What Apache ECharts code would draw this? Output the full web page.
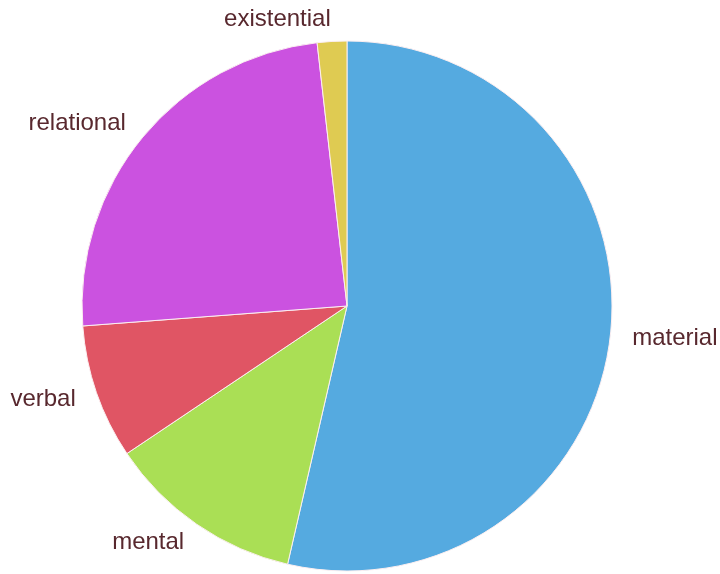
<!DOCTYPE html>
<html>
<head>
<meta charset="utf-8">
<script src="https://cdn.jsdelivr.net/npm/echarts@6/dist/echarts.min.js"></script>
<style>
  html, body { margin: 0; padding: 0; background: #fff; }
  #main { width: 720px; height: 574px; }
</style>
</head>
<body>
<div id="main"></div>
<script>
// process types and their shares (%)
const categories = ['material', 'mental', 'verbal', 'relational', 'existential'];
const values = [53.6, 12.0, 8.2, 24.4, 1.8];
const colors = ['#55aae0', '#aadf55', '#e05564', '#cb52e0', '#dfcb52'];

const chart = echarts.init(document.getElementById('main'));

const option = {
  animation: false,
  series: [
    {
      type: 'pie',
      center: [347, 306],
      radius: 265,
      startAngle: 90,
      clockwise: true,
      avoidLabelOverlap: false,
      data: categories.map((name, i) => ({
        name: name,
        value: values[i],
        itemStyle: { color: colors[i] }
      })),
      itemStyle: {
        borderColor: '#fbeef0',
        borderWidth: 1
      },
      label: {
        show: true,
        position: 'outside',
        formatter: '{b}',
        color: '#58282e',
        fontSize: 24,
        fontFamily: 'Liberation Sans, Arial, sans-serif',
        distanceToLabelLine: 0
      },
      labelLine: {
        show: false,
        length: 22,
        length2: 0
      },
      emphasis: { disabled: true }
    }
  ]
};

chart.setOption(option);
</script>
</body>
</html>
